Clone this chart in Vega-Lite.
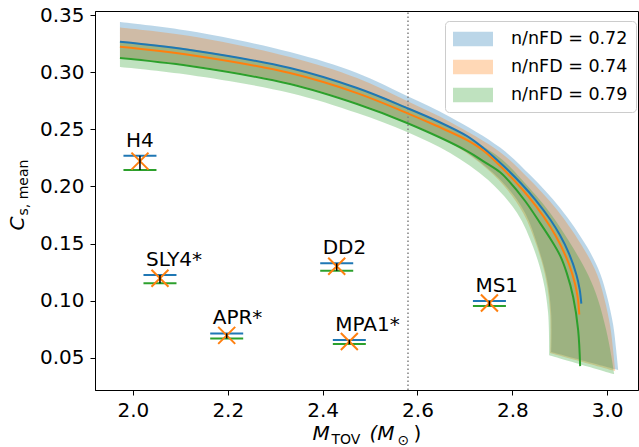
{
  "$schema": "https://vega.github.io/schema/vega-lite/v6.json",
  "width": 543,
  "height": 379,
  "autosize": {"type": "none"},
  "padding": {"left": 95, "top": 11, "right": 1, "bottom": 57},
  "background": "white",
  "config": {
    "font": "DejaVu Sans",
    "view": {"stroke": "#000", "strokeWidth": 1},
    "axis": {"grid": false, "labelFontSize": 20, "labelColor": "#000", "tickColor": "#000", "domainColor": "#000", "tickSize": 5, "titleColor": "#000", "titleFontWeight": "normal", "titleFontSize": 20}
  },
  "datasets": {
    "bands": [
      {"s":"0.72","o":1,"x":1.9726,"y":0.3439},{"s":"0.72","o":2,"x":2.1203,"y":0.3360},{"s":"0.72","o":3,"x":2.3312,"y":0.3176},{"s":"0.72","o":4,"x":2.4726,"y":0.2993},{"s":"0.72","o":5,"x":2.5781,"y":0.2791},{"s":"0.72","o":6,"x":2.6688,"y":0.2608},{"s":"0.72","o":7,"x":2.7743,"y":0.2340},{"s":"0.72","o":8,"x":2.8376,"y":0.2100},{"s":"0.72","o":9,"x":2.9008,"y":0.1812},{"s":"0.72","o":10,"x":2.9578,"y":0.1470},{"s":"0.72","o":11,"x":2.9852,"y":0.1240},{"s":"0.72","o":12,"x":3.0000,"y":0.1033},{"s":"0.72","o":13,"x":3.0127,"y":0.0788},{"s":"0.72","o":14,"x":3.0190,"y":0.0569},{"s":"0.72","o":15,"x":3.0232,"y":0.0394},{"s":"0.72","o":15.5,"x":3.0232,"y":0.0394},{"s":"0.72","o":15.8,"x":2.8819,"y":0.0552},{"s":"0.72","o":16,"x":2.8819,"y":0.0552},{"s":"0.72","o":17,"x":2.8819,"y":0.0893},{"s":"0.72","o":18,"x":2.8734,"y":0.1181},{"s":"0.72","o":19,"x":2.8544,"y":0.1470},{"s":"0.72","o":20,"x":2.8270,"y":0.1768},{"s":"0.72","o":21,"x":2.7848,"y":0.2013},{"s":"0.72","o":22,"x":2.7321,"y":0.2214},{"s":"0.72","o":23,"x":2.6688,"y":0.2389},{"s":"0.72","o":24,"x":2.5781,"y":0.2564},{"s":"0.72","o":25,"x":2.4726,"y":0.2730},{"s":"0.72","o":26,"x":2.3312,"y":0.2905},{"s":"0.72","o":27,"x":2.1203,"y":0.3063},{"s":"0.72","o":28,"x":1.9726,"y":0.3133},
      {"s":"0.74","o":1,"x":1.9726,"y":0.3391},{"s":"0.74","o":2,"x":2.1203,"y":0.3316},{"s":"0.74","o":3,"x":2.3312,"y":0.3133},{"s":"0.74","o":4,"x":2.4726,"y":0.2949},{"s":"0.74","o":5,"x":2.5781,"y":0.2748},{"s":"0.74","o":6,"x":2.6688,"y":0.2564},{"s":"0.74","o":7,"x":2.7743,"y":0.2300},{"s":"0.74","o":8,"x":2.8333,"y":0.2074},{"s":"0.74","o":9,"x":2.8945,"y":0.1794},{"s":"0.74","o":10,"x":2.9515,"y":0.1450},{"s":"0.74","o":11,"x":2.9789,"y":0.1228},{"s":"0.74","o":12,"x":2.9937,"y":0.1024},{"s":"0.74","o":13,"x":3.0063,"y":0.0779},{"s":"0.74","o":14,"x":3.0127,"y":0.0560},{"s":"0.74","o":15,"x":3.0169,"y":0.0385},{"s":"0.74","o":15.5,"x":3.0169,"y":0.0385},{"s":"0.74","o":15.8,"x":2.8797,"y":0.0543},{"s":"0.74","o":16,"x":2.8797,"y":0.0543},{"s":"0.74","o":17,"x":2.8797,"y":0.0893},{"s":"0.74","o":18,"x":2.8713,"y":0.1181},{"s":"0.74","o":19,"x":2.8523,"y":0.1470},{"s":"0.74","o":20,"x":2.8228,"y":0.1768},{"s":"0.74","o":21,"x":2.7827,"y":0.2004},{"s":"0.74","o":22,"x":2.7321,"y":0.2205},{"s":"0.74","o":23,"x":2.6688,"y":0.2380},{"s":"0.74","o":24,"x":2.5781,"y":0.2555},{"s":"0.74","o":25,"x":2.4726,"y":0.2721},{"s":"0.74","o":26,"x":2.3312,"y":0.2896},{"s":"0.74","o":27,"x":2.1203,"y":0.3054},{"s":"0.74","o":28,"x":1.9726,"y":0.3124},
      {"s":"0.79","o":1,"x":1.9726,"y":0.3273},{"s":"0.79","o":2,"x":2.1203,"y":0.3203},{"s":"0.79","o":3,"x":2.3312,"y":0.3036},{"s":"0.79","o":4,"x":2.4726,"y":0.2861},{"s":"0.79","o":5,"x":2.5781,"y":0.2695},{"s":"0.79","o":6,"x":2.6688,"y":0.2511},{"s":"0.79","o":7,"x":2.7743,"y":0.2250},{"s":"0.79","o":8,"x":2.8207,"y":0.2056},{"s":"0.79","o":9,"x":2.8797,"y":0.1768},{"s":"0.79","o":10,"x":2.9283,"y":0.1461},{"s":"0.79","o":11,"x":2.9599,"y":0.1225},{"s":"0.79","o":12,"x":2.9810,"y":0.1006},{"s":"0.79","o":13,"x":2.9979,"y":0.0744},{"s":"0.79","o":14,"x":3.0084,"y":0.0525},{"s":"0.79","o":15,"x":3.0148,"y":0.0359},{"s":"0.79","o":15.5,"x":3.0148,"y":0.0359},{"s":"0.79","o":15.8,"x":2.8776,"y":0.0525},{"s":"0.79","o":16,"x":2.8776,"y":0.0525},{"s":"0.79","o":17,"x":2.8755,"y":0.0893},{"s":"0.79","o":18,"x":2.8650,"y":0.1181},{"s":"0.79","o":19,"x":2.8439,"y":0.1470},{"s":"0.79","o":20,"x":2.8101,"y":0.1768},{"s":"0.79","o":21,"x":2.7490,"y":0.2056},{"s":"0.79","o":22,"x":2.6688,"y":0.2293},{"s":"0.79","o":23,"x":2.5781,"y":0.2476},{"s":"0.79","o":24,"x":2.4726,"y":0.2643},{"s":"0.79","o":25,"x":2.3312,"y":0.2818},{"s":"0.79","o":26,"x":2.1203,"y":0.2975},{"s":"0.79","o":27,"x":1.9726,"y":0.3045}
    ],
    "lines": [
      {"s":"0.72","o":1,"x":1.9726,"y":0.3266},{"s":"0.72","o":2,"x":2.1203,"y":0.3194},{"s":"0.72","o":3,"x":2.3312,"y":0.3036},{"s":"0.72","o":4,"x":2.4726,"y":0.2861},{"s":"0.72","o":5,"x":2.5781,"y":0.2686},{"s":"0.72","o":6,"x":2.64,"y":0.2575},{"s":"0.72","o":7,"x":2.7046,"y":0.2440},{"s":"0.72","o":8,"x":2.74,"y":0.2332},{"s":"0.72","o":9,"x":2.78,"y":0.2185},{"s":"0.72","o":10,"x":2.82,"y":0.2020},{"s":"0.72","o":11,"x":2.85,"y":0.1877},{"s":"0.72","o":12,"x":2.88,"y":0.1711},{"s":"0.72","o":13,"x":2.90,"y":0.1577},{"s":"0.72","o":14,"x":2.92,"y":0.1409},{"s":"0.72","o":15,"x":2.935,"y":0.1231},{"s":"0.72","o":16,"x":2.942,"y":0.1100},{"s":"0.72","o":17,"x":2.9455,"y":0.0975},
      {"s":"0.74","o":1,"x":1.9726,"y":0.3222},{"s":"0.74","o":2,"x":2.1203,"y":0.3150},{"s":"0.74","o":3,"x":2.3312,"y":0.2992},{"s":"0.74","o":4,"x":2.4726,"y":0.2817},{"s":"0.74","o":5,"x":2.5781,"y":0.2642},{"s":"0.74","o":6,"x":2.64,"y":0.2531},{"s":"0.74","o":7,"x":2.7046,"y":0.2405},{"s":"0.74","o":8,"x":2.74,"y":0.2311},{"s":"0.74","o":9,"x":2.78,"y":0.2156},{"s":"0.74","o":10,"x":2.82,"y":0.1980},{"s":"0.74","o":11,"x":2.85,"y":0.1828},{"s":"0.74","o":12,"x":2.88,"y":0.1648},{"s":"0.74","o":13,"x":2.90,"y":0.1502},{"s":"0.74","o":14,"x":2.92,"y":0.1314},{"s":"0.74","o":15,"x":2.932,"y":0.1152},{"s":"0.74","o":16,"x":2.938,"y":0.1025},{"s":"0.74","o":17,"x":2.9412,"y":0.0880},
      {"s":"0.79","o":1,"x":1.9726,"y":0.3124},{"s":"0.79","o":2,"x":2.1203,"y":0.3054},{"s":"0.79","o":3,"x":2.3312,"y":0.2896},{"s":"0.79","o":4,"x":2.4726,"y":0.2721},{"s":"0.79","o":5,"x":2.5781,"y":0.2555},{"s":"0.79","o":6,"x":2.7046,"y":0.2310},{"s":"0.79","o":7,"x":2.74,"y":0.2218},{"s":"0.79","o":8,"x":2.7743,"y":0.2125},{"s":"0.79","o":9,"x":2.7890,"y":0.2065},{"s":"0.79","o":10,"x":2.8270,"y":0.1873},{"s":"0.79","o":11,"x":2.8587,"y":0.1680},{"s":"0.79","o":12,"x":2.88,"y":0.1545},{"s":"0.79","o":13,"x":2.9008,"y":0.1395},{"s":"0.79","o":14,"x":2.915,"y":0.1240},{"s":"0.79","o":15,"x":2.9283,"y":0.1033},{"s":"0.79","o":16,"x":2.9388,"y":0.0744},{"s":"0.79","o":17,"x":2.9430,"y":0.0429}
    ],
    "eos": [
      {"eos":"H4","m":2.0148,"yb":0.2269,"yo":0.2222,"yg":0.2144},
      {"eos":"SLY4*","m":2.057,"yb":0.1225,"yo":0.1198,"yg":0.1153},
      {"eos":"APR*","m":2.1977,"yb":0.0715,"yo":0.0698,"yg":0.0671},
      {"eos":"DD2","m":2.4297,"yb":0.1328,"yo":0.1303,"yg":0.1263},
      {"eos":"MPA1*","m":2.4563,"yb":0.0657,"yo":0.0644,"yg":0.0622},
      {"eos":"MS1","m":2.7517,"yb":0.0998,"yo":0.0981,"yg":0.0954}
    ],
    "vline": [{"m": 2.58}]
  },
  "resolve": {"axis": {"x": "independent", "y": "independent"}},
  "layer": [
    {
      "data": {"name": "bands"},
      "mark": {"type": "line", "interpolate": "catmull-rom", "fillOpacity": 0.3, "strokeWidth": 0, "strokeOpacity": 0},
      "encoding": {
        "x": {"field": "x", "type": "quantitative", "scale": {"domain": [1.92, 3.065], "nice": false, "zero": false},
              "axis": {"orient": "bottom", "values": [2.0, 2.2, 2.4, 2.6, 2.8, 3.0], "format": ".1f", "labelPadding": 5, "title": "M", "titleFontStyle": "italic", "titleX": 217, "titleY": 49, "titleAlign": "left", "titleBaseline": "alphabetic"}},
        "y": {"field": "y", "type": "quantitative", "scale": {"domain": [0.022, 0.3535], "nice": false, "zero": false},
              "axis": {"orient": "left", "values": [0.05, 0.10, 0.15, 0.20, 0.25, 0.30, 0.35], "format": ".2f", "labelPadding": 6, "title": "C", "titleFontStyle": "italic", "titleAngle": -90, "titleX": -72, "titleY": 219, "titleAlign": "left", "titleBaseline": "alphabetic"}},
        "fill": {"field": "s", "type": "nominal", "scale": {"domain": ["0.72", "0.74", "0.79"], "range": ["#1f77b4", "#ff7f0e", "#2ca02c"]},
                 "legend": {"orient": "none", "legendX": 350, "legendY": 10, "title": null, "labelExpr": "'n/nFD = ' + datum.label", "labelFontSize": 17.5, "labelColor": "#000", "symbolType": "M-2,-0.72H2V0.72H-2Z", "symbolSize": 400, "symbolOpacity": 0.3, "symbolStrokeWidth": 0, "symbolOffset": 10, "labelOffset": 28, "rowPadding": 9, "padding": 8, "fillColor": "white", "strokeColor": "#cccccc", "cornerRadius": 4}},
        "detail": {"field": "s"},
        "order": {"field": "o", "type": "quantitative"}
      }
    },
    {
      "data": {"name": "vline"},
      "mark": {"type": "rule", "color": "#808080", "strokeWidth": 1.5, "strokeDash": [1.5, 2.5]},
      "encoding": {
        "x": {"field": "m", "type": "quantitative", "scale": {"domain": [1.92, 3.065], "nice": false, "zero": false},
              "axis": {"orient": "bottom", "labels": false, "ticks": false, "domain": false, "title": "TOV", "titleFontSize": 14, "titleX": 236, "titleY": 53, "titleAlign": "left", "titleBaseline": "alphabetic"}},
        "y": {"datum": 0.022, "type": "quantitative", "scale": {"domain": [0.022, 0.3535], "nice": false, "zero": false},
              "axis": {"orient": "left", "labels": false, "ticks": false, "domain": false, "title": "s, mean", "titleFontSize": 14, "titleAngle": -90, "titleX": -68, "titleY": 204, "titleAlign": "left", "titleBaseline": "alphabetic"}},
        "y2": {"datum": 0.3535}
      }
    },
    {
      "data": {"name": "lines"},
      "mark": {"type": "line", "strokeWidth": 2, "interpolate": "catmull-rom"},
      "encoding": {
        "x": {"field": "x", "type": "quantitative", "scale": {"domain": [1.92, 3.065], "nice": false, "zero": false},
              "axis": {"orient": "bottom", "labels": false, "ticks": false, "domain": false, "title": "(M", "titleFontStyle": "italic", "titleX": 274, "titleY": 49, "titleAlign": "left", "titleBaseline": "alphabetic"}},
        "y": {"field": "y", "type": "quantitative", "scale": {"domain": [0.022, 0.3535], "nice": false, "zero": false}, "axis": null},
        "color": {"field": "s", "type": "nominal", "scale": {"domain": ["0.72", "0.74", "0.79"], "range": ["#1f77b4", "#ff7f0e", "#2ca02c"]}, "legend": null},
        "order": {"field": "o", "type": "quantitative"}
      }
    },
    {
      "data": {"name": "eos"},
      "mark": {"type": "tick", "orient": "horizontal", "size": 33, "thickness": 2, "color": "#1f77b4", "opacity": 1},
      "encoding": {
        "x": {"field": "m", "type": "quantitative", "scale": {"domain": [1.92, 3.065], "nice": false, "zero": false},
              "axis": {"orient": "bottom", "labels": false, "ticks": false, "domain": false, "title": "⊙", "titleFontSize": 14, "titleX": 302, "titleY": 54, "titleAlign": "left", "titleBaseline": "alphabetic"}},
        "y": {"field": "yb", "type": "quantitative", "scale": {"domain": [0.022, 0.3535], "nice": false, "zero": false}, "axis": null}
      }
    },
    {
      "data": {"name": "eos"},
      "mark": {"type": "tick", "orient": "horizontal", "size": 33, "thickness": 2, "color": "#2ca02c", "opacity": 1},
      "encoding": {
        "x": {"field": "m", "type": "quantitative", "scale": {"domain": [1.92, 3.065], "nice": false, "zero": false},
              "axis": {"orient": "bottom", "labels": false, "ticks": false, "domain": false, "title": ")", "titleX": 318, "titleY": 49, "titleAlign": "left", "titleBaseline": "alphabetic"}},
        "y": {"field": "yg", "type": "quantitative", "scale": {"domain": [0.022, 0.3535], "nice": false, "zero": false}, "axis": null}
      }
    },
    {
      "data": {"name": "eos"},
      "mark": {"type": "point", "shape": "M-1,-1L1,1M-1,1L1,-1", "size": 289, "filled": false, "stroke": "#ff7f0e", "strokeWidth": 2, "opacity": 1},
      "encoding": {
        "x": {"field": "m", "type": "quantitative", "scale": {"domain": [1.92, 3.065], "nice": false, "zero": false}, "axis": null},
        "y": {"field": "yo", "type": "quantitative", "scale": {"domain": [0.022, 0.3535], "nice": false, "zero": false}, "axis": null}
      }
    },
    {
      "data": {"name": "eos"},
      "mark": {"type": "rule", "color": "#000", "strokeWidth": 1.5},
      "encoding": {
        "x": {"field": "m", "type": "quantitative", "scale": {"domain": [1.92, 3.065], "nice": false, "zero": false}, "axis": null},
        "y": {"field": "yb", "type": "quantitative", "scale": {"domain": [0.022, 0.3535], "nice": false, "zero": false}, "axis": null},
        "y2": {"field": "yg"}
      }
    },
    {
      "data": {"name": "eos"},
      "mark": {"type": "text", "align": "left", "baseline": "alphabetic", "dx": -14, "dy": -9, "fontSize": 20, "color": "#000"},
      "encoding": {
        "x": {"field": "m", "type": "quantitative", "scale": {"domain": [1.92, 3.065], "nice": false, "zero": false}, "axis": null},
        "y": {"field": "yb", "type": "quantitative", "scale": {"domain": [0.022, 0.3535], "nice": false, "zero": false}, "axis": null},
        "text": {"field": "eos"}
      }
    }
  ]
}
